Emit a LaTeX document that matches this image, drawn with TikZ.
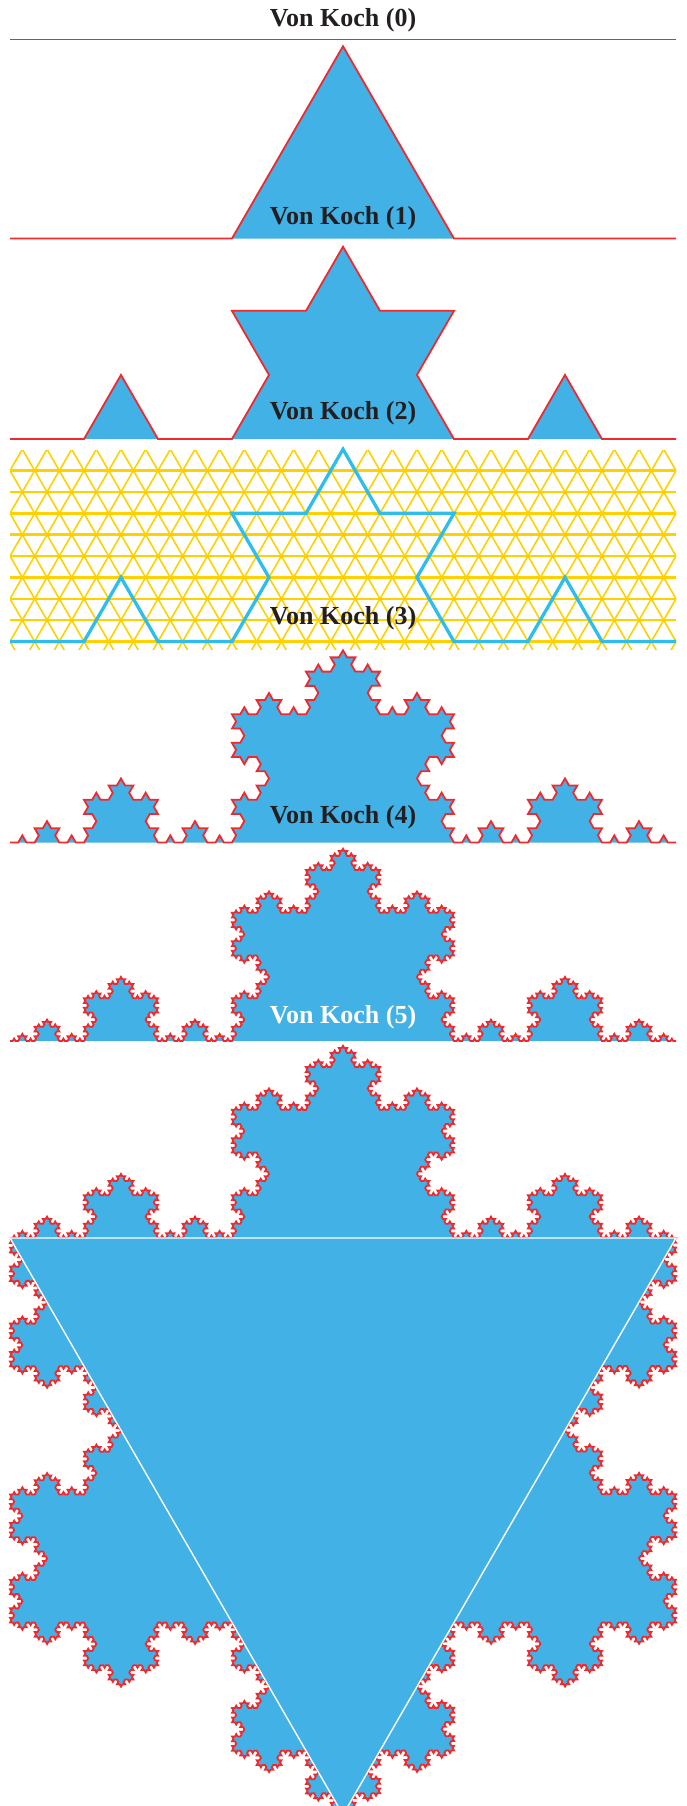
\documentclass[tikz,border=0pt]{standalone}
\usepackage{fontspec}
\setmainfont{Liberation Serif}
\usetikzlibrary{decorations.fractals}
\definecolor{kblue}{HTML}{42B1E5}
\definecolor{kred}{HTML}{EE2A2F}
\definecolor{kcyan}{HTML}{2EBDEC}
\definecolor{kyellow}{HTML}{FFD100}
\definecolor{ktext}{HTML}{231F20}
\begin{document}
\begin{tikzpicture}[x=1pt,y=1pt,decoration=Koch snowflake,
  kfill/.style={fill=kblue},
  kline/.style={draw=kred,line width=1.8pt},
  kgrid/.style={draw=kyellow,line width=1.6pt},
  kgridh/.style={draw=kyellow,line width=2.4pt},
  kcurve/.style={draw=kcyan,line width=3.3pt},
  klabel/.style={font=\fontsize{26}{30}\selectfont\bfseries,text=ktext,inner sep=0pt},
  ktri/.style={fill=kblue,draw=white,line width=1.4pt}]
\useasboundingbox (0,0) rectangle (686,-1806);
% Level 0
\draw[kline] (10,-39.5) -- (676,-39.5);
\node[klabel] (t0) at (343,-20) {Von Koch (0)};
% Level 1
\fill[kfill] decorate{(10,-238.5) -- (676,-238.5)};
\draw[kline] decorate{(10,-238.5) -- (676,-238.5)};
\node[klabel] (t1) at (343,-218) {Von Koch (1)};
% Level 2
\fill[kfill] decorate{decorate{(10,-439) -- (676,-439)}};
\draw[kline] decorate{decorate{(10,-439) -- (676,-439)}};
\node[klabel] (t2) at (343,-413) {Von Koch (2)};
% Level 3: grid
\begin{scope}
\clip (10,-450.6) rectangle (676,-649);
\foreach \k in {0,...,8}
  \draw[kgridh] (10,{-641.5+\k*21.3620}) -- (676,{-641.5+\k*21.3620});
\foreach \j in {-9,...,36} {
  \draw[kgrid] ({10+\j*24.66667},-641.5) ++(240:15) -- ++(60:240);
  \draw[kgrid] ({10+\j*24.66667},-641.5) ++(300:15) -- ++(120:240);
}
\end{scope}
\draw[kcurve] decorate{decorate{(10,-641.5) -- (676,-641.5)}};
\node[klabel] (t3) at (343,-618) {Von Koch (3)};
% Level 4
\fill[kfill] decorate{decorate{decorate{decorate{(10,-842.5) -- (676,-842.5)}}}};
\draw[kline] decorate{decorate{decorate{decorate{(10,-842.5) -- (676,-842.5)}}}};
\node[klabel] (t4) at (343,-817) {Von Koch (4)};
% Level 5
\fill[kfill] decorate{decorate{decorate{decorate{decorate{(10,-1041) -- (676,-1041)}}}}};
\draw[kline] decorate{decorate{decorate{decorate{decorate{(10,-1041) -- (676,-1041)}}}}};
\node[klabel,text=white] (t5) at (343,-1017) {Von Koch (5)};
% Snowflake
\coordinate (a) at (10,-1238);
\coordinate (b) at (676,-1238);
\coordinate (c) at (343,-1814.8);
\fill[kfill] decorate{decorate{decorate{decorate{decorate{(a) -- (b) -- (c) -- (a)}}}}};
\draw[kline] decorate{decorate{decorate{decorate{decorate{(a) -- (b) -- (c) -- (a)}}}}};
\filldraw[ktri] (a) -- (b) -- (c) -- cycle;
\end{tikzpicture}
\end{document}
